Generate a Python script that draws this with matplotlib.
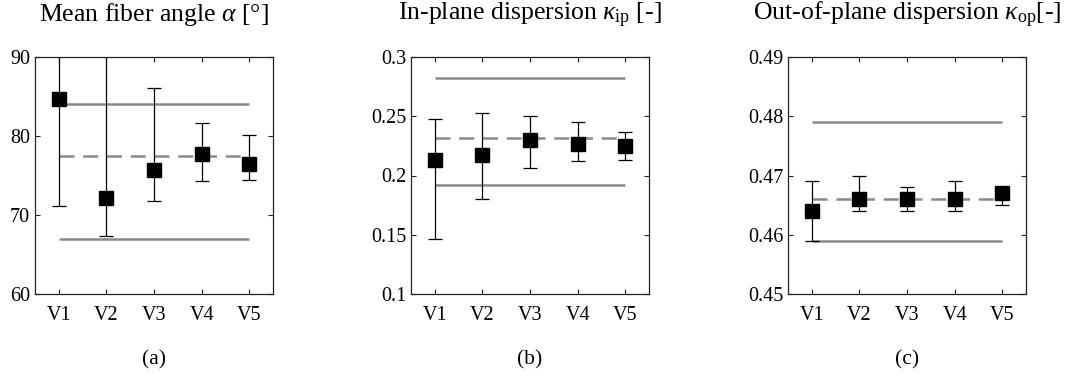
import matplotlib
matplotlib.use("Agg")
import matplotlib.pyplot as plt

plt.rcParams['font.family'] = ['Liberation Serif', 'DejaVu Serif']
plt.rcParams['mathtext.fontset'] = 'custom'
plt.rcParams['mathtext.rm'] = 'Liberation Serif'
plt.rcParams['mathtext.it'] = 'Liberation Serif:italic'
plt.rcParams['mathtext.bf'] = 'Liberation Serif:bold'

categories = ['V1', 'V2', 'V3', 'V4', 'V5']

# (a) mean fiber angle
alpha_mean = [84.7, 72.2, 75.7, 77.7, 76.4]
alpha_low = [71.1, 67.3, 71.8, 74.3, 74.4]
alpha_high = [98.3, 97.0, 86.1, 81.6, 80.1]
alpha_ref = 77.5
alpha_bounds = [67.0, 84.0]

# (b) in-plane dispersion
kip_mean = [0.2133, 0.2175, 0.2303, 0.2267, 0.2248]
kip_low = [0.1464, 0.1803, 0.2063, 0.2122, 0.2133]
kip_high = [0.2477, 0.2524, 0.2502, 0.2452, 0.2365]
kip_ref = 0.232
kip_bounds = [0.192, 0.282]

# (c) out-of-plane dispersion
kop_mean = [0.464, 0.466, 0.466, 0.466, 0.467]
kop_low = [0.459, 0.464, 0.464, 0.464, 0.465]
kop_high = [0.469, 0.470, 0.468, 0.469, 0.468]
kop_ref = 0.466
kop_bounds = [0.459, 0.479]

titles = [r'Mean fiber angle $\alpha$ [°]',
          r'In-plane dispersion $\kappa_{\mathrm{ip}}$ [-]',
          r'Out-of-plane dispersion $\kappa_{\mathrm{op}}$[-]']
panel_labels = ['(a)', '(b)', '(c)']
ylims = [(60, 90), (0.1, 0.3), (0.45, 0.49)]
yticks = [[60, 70, 80, 90],
          [0.1, 0.15, 0.2, 0.25, 0.3],
          [0.45, 0.46, 0.47, 0.48, 0.49]]
yticklabels = [['60', '70', '80', '90'],
               ['0.1', '0.15', '0.2', '0.25', '0.3'],
               ['0.45', '0.46', '0.47', '0.48', '0.49']]

panels = [
    (alpha_mean, alpha_low, alpha_high, alpha_ref, alpha_bounds),
    (kip_mean, kip_low, kip_high, kip_ref, kip_bounds),
    (kop_mean, kop_low, kop_high, kop_ref, kop_bounds),
]

fig = plt.figure(figsize=(10.73, 3.83), dpi=100)
lefts = [35 / 1073, 411 / 1073, 788 / 1073]
width = 238 / 1073
bottom = (383 - 294) / 383
height = 237 / 383

gray = '#8a8a8a'
x = list(range(1, len(categories) + 1))

for i, (mean, low, high, ref, bounds) in enumerate(panels):
    ax = fig.add_axes([lefts[i], bottom, width, height])
    for b in bounds:
        ax.plot([x[0], x[-1]], [b, b], color=gray, lw=1.8, zorder=1,
                solid_capstyle='butt')
    ax.plot([x[0], x[-1]], [ref, ref], color=gray, lw=1.8, zorder=1,
            dashes=(6, 3.5))
    yerr = [[m - l for m, l in zip(mean, low)],
            [h - m for m, h in zip(mean, high)]]
    ax.errorbar(x, mean, yerr=yerr, fmt='s', color='black', ecolor='black',
                markersize=9.5, elinewidth=0.9, capsize=4.8, capthick=0.9,
                zorder=3)
    ax.set_xlim(0.5, 5.5)
    ax.set_ylim(*ylims[i])
    ax.set_xticks(x)
    ax.set_xticklabels(categories)
    ax.set_yticks(yticks[i])
    ax.set_yticklabels(yticklabels[i])
    ax.tick_params(direction='in', top=True, right=True, length=3.5,
                   width=0.8, labelsize=14.5, color='#222222')
    ax.tick_params(axis='x', pad=8.5)
    ax.tick_params(axis='y', pad=3.5)
    for s in ax.spines.values():
        s.set_linewidth(0.9)
        s.set_color('#222222')
    ax.set_title(titles[i], fontsize=18.5, pad=26)
    ax.text(0.5, -0.278, panel_labels[i], transform=ax.transAxes,
            ha='center', va='center', fontsize=15.5)

fig.savefig('out.png', dpi=100)
